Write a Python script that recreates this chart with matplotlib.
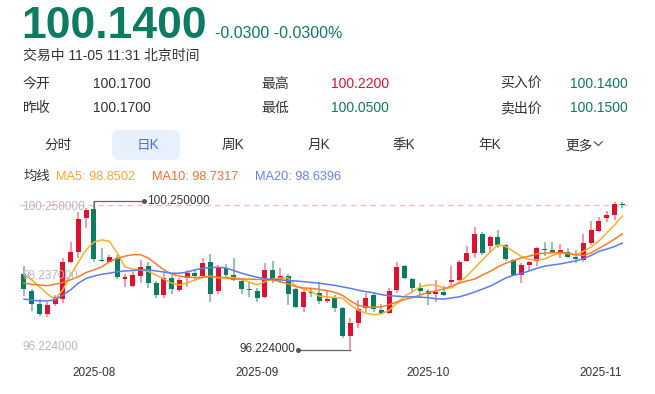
import matplotlib
matplotlib.use("Agg")
import matplotlib.pyplot as plt
from matplotlib.patches import FancyBboxPatch
from matplotlib.lines import Line2D
from matplotlib.transforms import IdentityTransform, blended_transform_factory
import numpy as np
import pandas as pd

#######################################
#### Data (daily K, 2025-07-21 .. 2025-11-05)
#######################################
opens = [98.28, 97.83, 97.46, 97.20, 97.46, 97.60, 98.61, 98.88, 99.78, 100.03,
         98.64, 98.61, 98.72, 98.14, 97.96, 98.23, 98.49, 98.03, 97.71, 98.16,
         97.85, 98.16, 98.30, 98.23, 98.59, 97.82, 98.45, 98.25, 98.09, 97.87,
         97.82, 97.65, 98.39, 98.14, 98.22, 97.86, 97.39, 97.80, 97.77, 97.55,
         97.65, 97.35, 96.61, 96.95, 97.35, 97.71, 97.31, 97.22, 97.85, 98.49,
         98.14, 97.91, 97.83, 97.73, 97.80, 98.06, 98.12, 98.63, 98.84, 99.36,
         99.03, 99.27, 99.06, 98.66, 98.25, 98.52, 98.63, 98.95, 98.92, 98.87,
         98.88, 98.73, 98.66, 99.12, 99.45, 99.78, 99.87, 100.17]
highs = [98.49, 97.87, 97.60, 97.53, 97.71, 98.71, 99.15, 99.96, 100.07, 100.25,
         98.98, 98.79, 98.79, 98.28, 98.32, 98.65, 98.61, 98.09, 98.30, 98.25,
         98.16, 98.39, 98.39, 98.70, 98.81, 98.52, 98.54, 98.72, 98.16, 98.05,
         97.91, 98.58, 98.63, 98.45, 98.27, 97.89, 97.85, 97.89, 98.07, 97.85,
         97.71, 97.39, 97.08, 97.58, 97.77, 97.80, 97.46, 97.91, 98.61, 98.52,
         98.16, 98.03, 97.86, 98.12, 97.95, 98.49, 98.66, 99.04, 99.54, 99.40,
         99.30, 99.47, 99.08, 98.67, 98.57, 98.63, 99.00, 99.13, 99.13, 99.08,
         98.97, 98.93, 99.35, 99.71, 99.83, 99.98, 100.23, 100.22]
lows = [97.68, 97.29, 97.15, 97.12, 97.41, 97.49, 98.57, 98.71, 99.51, 98.61,
        98.59, 98.57, 98.13, 97.93, 97.93, 98.03, 97.89, 97.62, 97.62, 97.73,
        97.80, 97.93, 98.09, 98.20, 97.53, 97.73, 98.16, 98.09, 97.73, 97.66,
        97.53, 97.62, 98.04, 98.03, 97.44, 97.37, 97.24, 97.66, 97.46, 97.49,
        97.26, 96.54, 96.224, 96.83, 97.26, 97.26, 97.19, 97.19, 97.76, 98.14,
        97.76, 97.66, 97.44, 97.51, 97.69, 97.98, 98.09, 98.61, 98.70, 98.79,
        98.84, 98.97, 98.64, 98.22, 98.03, 98.36, 98.50, 98.77, 98.86, 98.72,
        98.72, 98.57, 98.61, 99.06, 99.40, 99.69, 99.74, 100.05]
closes = [97.87, 97.47, 97.20, 97.44, 97.65, 98.59, 98.86, 99.76, 100.01, 98.68,
          98.62, 98.73, 98.19, 98.19, 98.25, 98.47, 98.03, 97.71, 98.16, 97.86,
          98.12, 98.30, 98.22, 98.58, 97.74, 98.45, 98.25, 98.12, 97.87, 97.85,
          97.64, 98.39, 98.14, 98.22, 97.73, 97.39, 97.80, 97.76, 97.55, 97.60,
          97.35, 96.61, 96.95, 97.32, 97.64, 97.32, 97.22, 97.82, 98.47, 98.16,
          97.91, 97.83, 97.74, 97.80, 97.71, 98.11, 98.61, 98.84, 99.36, 98.84,
          99.27, 99.06, 98.67, 98.25, 98.52, 98.59, 98.97, 98.92, 98.88, 98.93,
          98.75, 98.67, 99.12, 99.47, 99.71, 99.87, 100.17, 100.14]

ma5 = [98.25, 98.12, 97.93, 97.74, 97.60, 97.85, 98.25, 98.60, 98.93, 99.14,
       99.20, 99.16, 98.84, 98.47, 98.41, 98.39, 98.35, 98.25, 98.14, 98.03,
       97.98, 98.03, 98.12, 98.18, 98.22, 98.17, 98.19, 98.18, 98.14, 98.06,
       97.98, 98.07, 98.14, 98.17, 98.17, 97.95, 97.87, 97.80, 97.68, 97.66,
       97.64, 97.62, 97.44, 97.30, 97.22, 97.18, 97.20, 97.30, 97.49, 97.68,
       97.80, 97.93, 97.98, 97.98, 97.90, 97.90, 98.06, 98.22, 98.44, 98.66,
       98.87, 99.07, 99.02, 98.89, 98.75, 98.67, 98.66, 98.68, 98.78, 98.84,
       98.83, 98.79, 98.89, 99.01, 99.17, 99.39, 99.60, 99.84]
ma10 = [98.03, 98.00, 97.98, 97.96, 98.00, 98.05, 98.12, 98.20, 98.32, 98.39,
        98.47, 98.61, 98.70, 98.76, 98.80, 98.80, 98.71, 98.55, 98.39, 98.28,
        98.22, 98.19, 98.18, 98.19, 98.21, 98.19, 98.17, 98.14, 98.14, 98.14,
        98.13, 98.13, 98.12, 98.07, 98.01, 97.94, 97.90, 97.89, 97.86, 97.83,
        97.78, 97.70, 97.55, 97.43, 97.39, 97.38, 97.39, 97.45, 97.52, 97.59,
        97.64, 97.71, 97.78, 97.82, 97.87, 97.95, 98.03, 98.09, 98.14, 98.25,
        98.35, 98.47, 98.57, 98.64, 98.71, 98.76, 98.82, 98.84, 98.85, 98.86,
        98.83, 98.80, 98.78, 98.85, 98.97, 99.09, 99.22, 99.36]
ma20 = [97.60, 97.57, 97.55, 97.55, 97.58, 97.71, 97.85, 98.03, 98.16, 98.22,
        98.27, 98.30, 98.34, 98.36, 98.37, 98.39, 98.39, 98.36, 98.33, 98.30,
        98.30, 98.33, 98.39, 98.43, 98.45, 98.46, 98.44, 98.37, 98.30, 98.24,
        98.19, 98.15, 98.13, 98.12, 98.10, 98.09, 98.07, 98.05, 98.03, 98.00,
        97.97, 97.93, 97.89, 97.84, 97.80, 97.77, 97.72, 97.69, 97.68, 97.66,
        97.66, 97.65, 97.64, 97.61, 97.60, 97.63, 97.66, 97.72, 97.79, 97.87,
        97.95, 98.06, 98.17, 98.24, 98.29, 98.36, 98.43, 98.49, 98.52, 98.55,
        98.59, 98.63, 98.69, 98.78, 98.89, 98.95, 99.02, 99.11]

dates = pd.bdate_range("2025-07-21", "2025-11-05")

quote_rows = [("今开", "100.1700", "最高", "100.2200", "买入价", "100.1400"),
              ("昨收", "100.1700", "最低", "100.0500", "卖出价", "100.1500")]
tabs = ["分时", "日K", "周K", "月K", "季K", "年K", "更多"]
ma_legend = ["MA5: 98.8502", "MA10: 98.7317", "MA20: 98.6396"]

#######################################
#### Style
#######################################
W, H = 655, 394
TEAL = "#0b7b62"
RED = "#de1230"
GREEN = "#0a7c62"
RED_W = "#ef7f8e"
GREEN_W = "#6db3a1"
DARK = "#333333"
FONT = ["Liberation Sans", "Noto Sans CJK SC"]
C_MA5, C_MA10, C_MA20 = "#ffae22", "#ff7a22", "#5b7cf3"


def fx(x):
   return x / W


def fy(y):
   return 1 - y / H


fig = plt.figure(figsize=(W / 100, H / 100), dpi=100)
fig.patch.set_facecolor("white")

#### Header
fig.text(fx(21), fy(37.5), "100.1400", fontsize=32, fontweight="bold",
         color=TEAL, family=FONT, va="baseline")
fig.text(fx(215), fy(37.5), "-0.0300 -0.0300%", fontsize=11.5, color=TEAL,
         family=FONT, va="baseline")
fig.text(fx(23), fy(59.5), "交易中 11-05 11:31 北京时间", fontsize=10,
         color=DARK, family=FONT, va="baseline")

val_colors = [[DARK, RED, TEAL], [DARK, TEAL, TEAL]]
col_x = [(23, 93), (261.5, 331), (500, 570)]
for r, row in enumerate(quote_rows):
   yb = 88 + r * 24
   for c in range(3):
      fig.text(fx(col_x[c][0]), fy(yb), row[2 * c], fontsize=10, color=DARK,
               family=FONT, va="baseline")
      fig.text(fx(col_x[c][1]), fy(yb), row[2 * c + 1], fontsize=10,
               color=val_colors[r][c], family=FONT, va="baseline")

#### Tabs
box = FancyBboxPatch((112, H - 160), 68, 30, boxstyle="round,pad=0,rounding_size=7",
                     transform=IdentityTransform(), fc="#e8f0fd", ec="none")
fig.add_artist(box)
tab_x = [58, 148, 233, 319, 404, 490, 579]
for t, xc in zip(tabs, tab_x):
   fig.text(fx(xc), fy(149), t, fontsize=9.8, ha="center", va="baseline",
            color="#4e6ef2" if t == "日K" else DARK, family=FONT)
fig.add_artist(Line2D([594.5, 598.3, 602.2], [H - 141.8, H - 145.6, H - 141.8],
                      transform=IdentityTransform(), color="#555555", lw=0.9))

#### MA legend
fig.text(fx(23), fy(180), "均线", fontsize=9.6, color=DARK, family=FONT, va="baseline")
for txt, xl, col in zip(ma_legend, [56.5, 152, 255], ["#ffa726", "#ff6a2a", "#6b7dff"]):
   fig.text(fx(xl), fy(180), txt, fontsize=9.2, color=col, family=FONT, va="baseline")

#######################################
#### K-line chart
#######################################
o = np.array(opens)
h = np.array(highs)
l = np.array(lows)
c = np.array(closes)
n = len(c)
x = np.arange(n)

ax_l, ax_r, ax_t, ax_b = 20.1, 628.1, 190, 362
ax = fig.add_axes([fx(ax_l), fy(ax_b), (ax_r - ax_l) / W, (ax_b - ax_t) / H])
ax.set_axis_off()

ymax, ymin = h.max(), l.min()
span = ymax - ymin
ax.set_xlim(-0.5, n - 0.25)
ax.set_ylim(ymin - span * 12 / 149, ymax + span * 11 / 149)

up = c >= o
body_col = np.where(up, RED, GREEN)
wick_col = np.where(up, RED_W, GREEN_W)
ax.vlines(x, l, h, colors=wick_col, linewidth=1.1, zorder=2)
body_lo = np.minimum(o, c)
body_h = np.maximum(np.abs(c - o), 0.035)
ax.bar(x, body_h, bottom=body_lo, width=0.64, color=body_col, linewidth=0, zorder=3)

ax.plot(x, ma5, color=C_MA5, lw=1.1, zorder=4)
ax.plot(x, ma10, color=C_MA10, lw=1.1, zorder=4)
ax.plot(x, ma20, color=C_MA20, lw=1.1, zorder=4)

# last price line
ax.axhline(c[-1], color="#f8bcbc", lw=1.0, dashes=(4, 3), zorder=1)

# axis value labels
ytr = ax.get_yaxis_transform()
lab = dict(fontsize=8.5, color="#b9b9b9", family=FONT, transform=ytr, zorder=6)
ax.text(0.004, ymax, f"{ymax:.6f}", va="top", **lab)
ax.text(0.004, (ymax + ymin) / 2, f"{(ymax + ymin) / 2:.6f}", va="center", **lab)
ax.text(0.004, ymin, f"{ymin:.6f}", va="baseline", **lab)

# high / low markers
ih, il = int(np.argmax(h)), int(np.argmin(l))
hx = ih + 6.5
ax.plot([ih, ih, hx], [max(o[ih], c[ih]), h[ih], h[ih]], color="#666666", lw=0.9, zorder=5)
ax.plot(hx, h[ih], "o", ms=2.6, color="#555555", zorder=5)
ax.text(hx + 0.35, h[ih], f"{h[ih]:.6f}", fontsize=8.5, color=DARK, family=FONT,
        va="center", ha="left", zorder=6)
lx = il - 6.7
ax.plot([il, lx], [l[il], l[il]], color="#666666", lw=0.9, zorder=5)
ax.plot(lx, l[il], "o", ms=2.6, color="#555555", zorder=5)
ax.text(lx - 0.35, l[il] + 0.03, f"{l[il]:.6f}", fontsize=8.5, color=DARK, family=FONT,
        va="center", ha="right", zorder=6)

# month labels
xtr = blended_transform_factory(ax.transData, ax.transAxes)
for i in range(1, n):
   if dates[i].month != dates[i - 1].month:
      if i > n - 4:   # keep last label inside the plot
         ax.text(n - 1, -0.064, dates[i].strftime("%Y-%m"), transform=xtr, fontsize=8.5,
                 color=DARK, family=FONT, ha="right", va="center")
      else:
         ax.text(i, -0.064, dates[i].strftime("%Y-%m"), transform=xtr, fontsize=8.5,
                 color=DARK, family=FONT, ha="center", va="center")

fig.savefig("out.png", dpi=100)
